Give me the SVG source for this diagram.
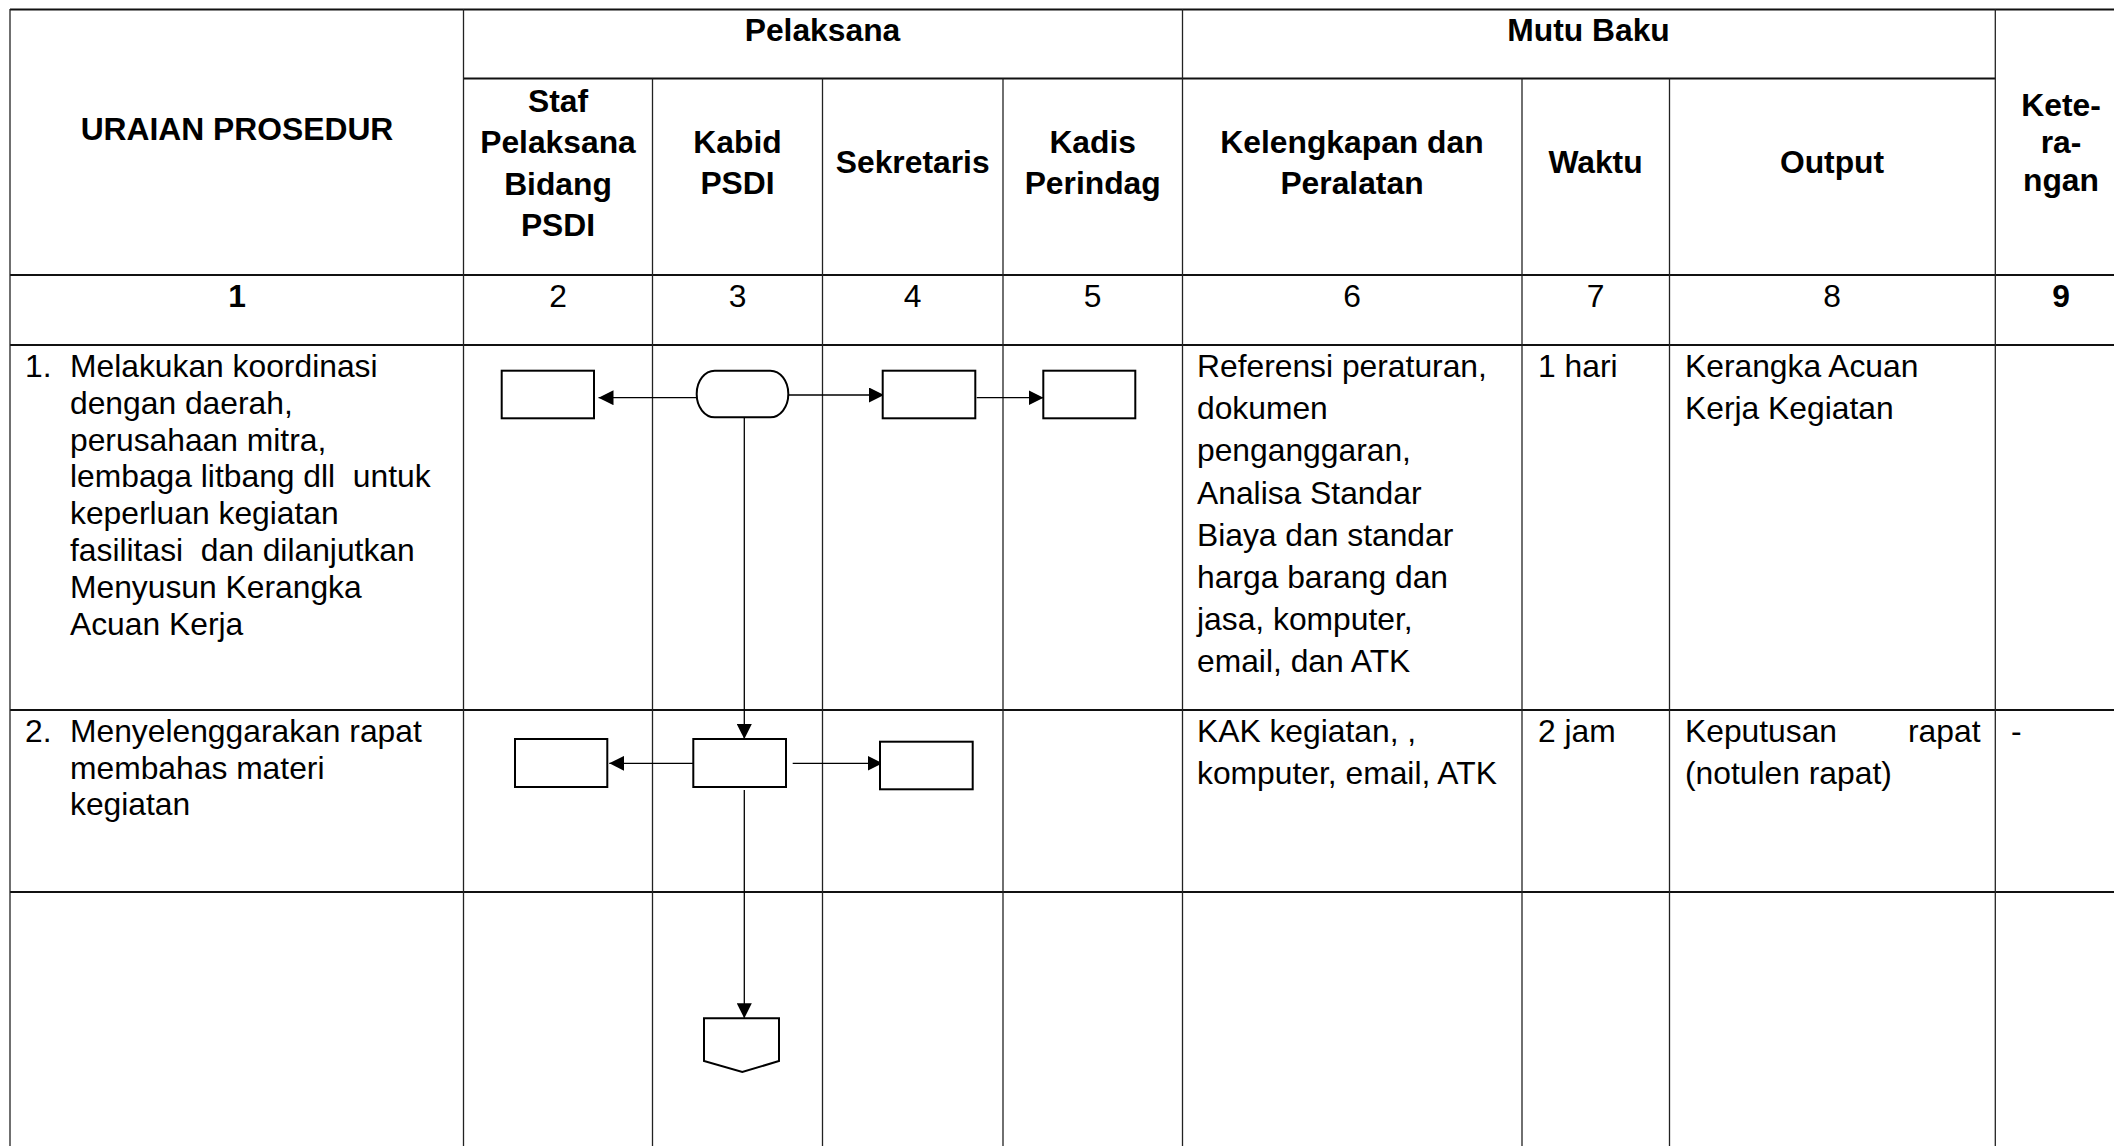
<svg xmlns="http://www.w3.org/2000/svg" width="2114" height="1146" viewBox="0 0 2114 1146">
<style>
  text { font-family: "Liberation Sans", Arial, sans-serif; font-size: 31.8px; fill: #000; }
  .b { font-weight: bold; }
  .c { text-anchor: middle; }
  .e { text-anchor: end; }
  .hl { stroke: #111; stroke-width: 2; fill: none; }
  .vl { stroke: #222; stroke-width: 1.3; fill: none; }
  .shape { fill: #fff; stroke: #000; stroke-width: 2; }
  .conn { stroke: #000; stroke-width: 1.3; fill: none; marker-end: url(#arr); }
  .plain { stroke: #000; stroke-width: 1.3; fill: none; }
</style>
<defs>
  <marker id="arr" markerUnits="userSpaceOnUse" markerWidth="15" markerHeight="15" refX="15" refY="7.5" orient="auto">
    <path d="M0,0 L15,7.5 L0,15 z" fill="#000"/>
  </marker>
</defs>
<rect x="0" y="0" width="2114" height="1146" fill="#fff"/>

<g id="table-grid">
  <line class="hl" x1="10" y1="9.5" x2="2114" y2="9.5"/>
  <line class="hl" x1="463.5" y1="78.5" x2="1995.3" y2="78.5"/>
  <line class="hl" x1="10" y1="275" x2="2114" y2="275"/>
  <line class="hl" x1="10" y1="345" x2="2114" y2="345"/>
  <line class="hl" x1="10" y1="710" x2="2114" y2="710"/>
  <line class="hl" x1="10" y1="892" x2="2114" y2="892"/>
  <line class="vl" x1="10" y1="9" x2="10" y2="1146"/>
  <line class="vl" x1="463.5" y1="9" x2="463.5" y2="1146"/>
  <line class="vl" x1="652.5" y1="78.5" x2="652.5" y2="1146"/>
  <line class="vl" x1="822.5" y1="78.5" x2="822.5" y2="1146"/>
  <line class="vl" x1="1003" y1="78.5" x2="1003" y2="1146"/>
  <line class="vl" x1="1182.5" y1="9" x2="1182.5" y2="1146"/>
  <line class="vl" x1="1522" y1="78.5" x2="1522" y2="1146"/>
  <line class="vl" x1="1669.5" y1="78.5" x2="1669.5" y2="1146"/>
  <line class="vl" x1="1995.3" y1="9" x2="1995.3" y2="1146"/>
</g>

<g id="header-text">
  <text class="b c" x="237" y="139.5">URAIAN PROSEDUR</text>
  <text class="b c" x="822.5" y="40.5">Pelaksana</text>
  <text class="b c" x="1588.5" y="40.5">Mutu Baku</text>
  <text class="b c" x="558"><tspan x="558" y="111.5">Staf</tspan><tspan x="558" y="153">Pelaksana</tspan><tspan x="558" y="194.5">Bidang</tspan><tspan x="558" y="236">PSDI</tspan></text>
  <text class="b c" x="737.5"><tspan x="737.5" y="152.5">Kabid</tspan><tspan x="737.5" y="194">PSDI</tspan></text>
  <text class="b c" x="912.7" y="173">Sekretaris</text>
  <text class="b c" x="1092.7"><tspan x="1092.7" y="152.5">Kadis</tspan><tspan x="1092.7" y="194">Perindag</tspan></text>
  <text class="b c" x="1352"><tspan x="1352" y="152.5">Kelengkapan dan</tspan><tspan x="1352" y="194">Peralatan</tspan></text>
  <text class="b c" x="1595.5" y="172.5">Waktu</text>
  <text class="b c" x="1832" y="172.5">Output</text>
  <text class="b c" x="2061"><tspan x="2061" y="115.5">Kete-</tspan><tspan x="2061" y="153">ra-</tspan><tspan x="2061" y="190.5">ngan</tspan></text>
</g>

<g id="column-numbers">
  <text class="b c" x="237" y="306.5">1</text>
  <text class="c" x="558" y="306.5">2</text>
  <text class="c" x="737.5" y="306.5">3</text>
  <text class="c" x="912.7" y="306.5">4</text>
  <text class="c" x="1092.7" y="306.5">5</text>
  <text class="c" x="1352" y="306.5">6</text>
  <text class="c" x="1595.5" y="306.5">7</text>
  <text class="c" x="1832" y="306.5">8</text>
  <text class="b c" x="2061" y="306.5">9</text>
</g>

<g id="row1-text">
  <text x="25" y="377">1.</text>
  <text xml:space="preserve" x="70"><tspan x="70" y="377">Melakukan koordinasi</tspan><tspan x="70" y="413.8">dengan daerah,</tspan><tspan x="70" y="450.6">perusahaan mitra,</tspan><tspan x="70" y="487.4">lembaga litbang dll  untuk</tspan><tspan x="70" y="524.2">keperluan kegiatan</tspan><tspan x="70" y="561">fasilitasi  dan dilanjutkan</tspan><tspan x="70" y="597.8">Menyusun Kerangka</tspan><tspan x="70" y="634.6">Acuan Kerja</tspan></text>
  <text x="1197"><tspan x="1197" y="377">Referensi peraturan,</tspan><tspan x="1197" y="419.2">dokumen</tspan><tspan x="1197" y="461.4">penganggaran,</tspan><tspan x="1197" y="503.6">Analisa Standar</tspan><tspan x="1197" y="545.8">Biaya dan standar</tspan><tspan x="1197" y="588">harga barang dan</tspan><tspan x="1197" y="630.2">jasa, komputer,</tspan><tspan x="1197" y="672.4">email, dan ATK</tspan></text>
  <text x="1538" y="377">1 hari</text>
  <text x="1685"><tspan x="1685" y="377">Kerangka Acuan</tspan><tspan x="1685" y="419.2">Kerja Kegiatan</tspan></text>
</g>

<g id="row2-text">
  <text x="25" y="742">2.</text>
  <text x="70"><tspan x="70" y="742">Menyelenggarakan rapat</tspan><tspan x="70" y="778.6">membahas materi</tspan><tspan x="70" y="815.2">kegiatan</tspan></text>
  <text x="1197"><tspan x="1197" y="742">KAK kegiatan, ,</tspan><tspan x="1197" y="784.2">komputer, email, ATK</tspan></text>
  <text x="1538" y="742">2 jam</text>
  <text x="1685" y="742">Keputusan</text>
  <text class="e" x="1980.5" y="742">rapat</text>
  <text x="1685" y="784.2">(notulen rapat)</text>
  <text x="2011" y="742">-</text>
</g>

<g id="connectors">
  <line class="conn" x1="698" y1="397.7" x2="598.5" y2="397.7"/>
  <line class="conn" x1="788.3" y1="395" x2="884" y2="395"/>
  <line class="conn" x1="976.7" y1="397.7" x2="1043.5" y2="397.7"/>
  <line class="conn" x1="744.3" y1="417.3" x2="744.3" y2="739"/>
  <line class="conn" x1="693.3" y1="763.3" x2="609.3" y2="763.3"/>
  <line class="conn" x1="792.7" y1="763.3" x2="882.5" y2="763.3"/>
  <line class="conn" x1="744.3" y1="790" x2="744.3" y2="1018.3"/>
</g>

<g id="node-r1-staf">
  <rect class="shape" x="501.7" y="370.7" width="92.3" height="47.6"/>
</g>
<g id="node-r1-start">
  <rect class="shape" x="696.7" y="370.7" width="91.6" height="46.6" rx="18" ry="23"/>
</g>
<g id="node-r1-sekretaris">
  <rect class="shape" x="882.7" y="370.7" width="92.6" height="47.6"/>
</g>
<g id="node-r1-kadis">
  <rect class="shape" x="1043.3" y="370.7" width="92" height="47.6"/>
</g>
<g id="node-r2-staf">
  <rect class="shape" x="515" y="739" width="92.3" height="48"/>
</g>
<g id="node-r2-kabid">
  <rect class="shape" x="693.3" y="739" width="92.7" height="48"/>
</g>
<g id="node-r2-sekretaris">
  <rect class="shape" x="880" y="741.7" width="92.7" height="47.6"/>
</g>
<g id="node-offpage">
  <path class="shape" d="M704,1018.3 L779,1018.3 L779,1061 L742.3,1072 L704,1061 Z"/>
</g>
</svg>
